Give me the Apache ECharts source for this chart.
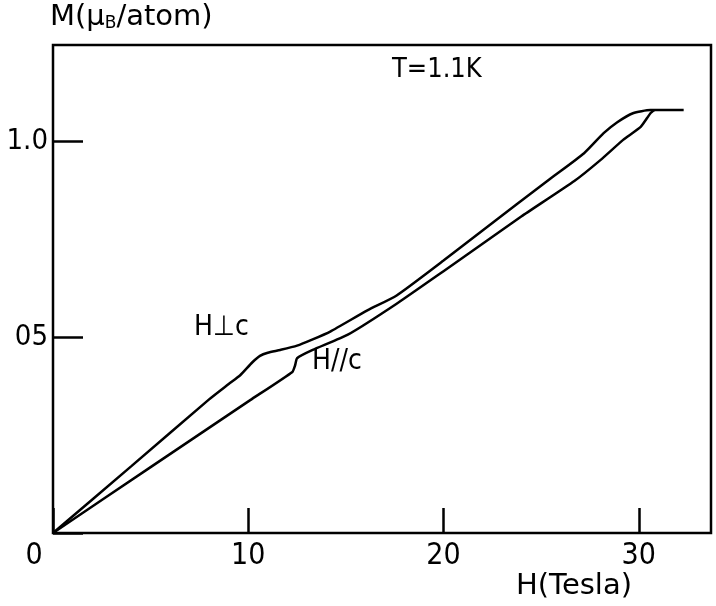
<!DOCTYPE html>
<html><head><meta charset="utf-8">
<script src="https://cdn.jsdelivr.net/npm/echarts@6/dist/echarts.min.js"></script>
<style>html,body{margin:0;padding:0;background:#fff}#c{width:716px;height:606px}</style>
</head><body><div id="c"></div>
<script>
// H ⊥ c curve (Tesla, μB/atom)
var perpH = [0, 4, 7.95, 9.0, 9.6, 10.2, 10.6, 11.0, 11.64, 12.5, 13.3, 14.2, 16.1, 17.6, 20, 22, 25.5, 27.2, 28.2, 28.9, 29.7, 30.6, 32.3];
var perpM = [0, 0.17, 0.339, 0.38, 0.403, 0.435, 0.452, 0.46, 0.467, 0.478, 0.494, 0.514, 0.568, 0.606, 0.695, 0.772, 0.905, 0.969, 1.020, 1.048, 1.071, 1.079, 1.079];
// H // c curve
var parH = [0, 5, 10.1, 12.26, 12.4, 12.5, 13.3, 15.1, 17.6, 20, 22, 24, 26.7, 28.05, 29.2, 30.1, 30.6, 30.8];
var parM = [0, 0.168, 0.339, 0.411, 0.428, 0.446, 0.467, 0.506, 0.585, 0.668, 0.738, 0.808, 0.898, 0.952, 1.003, 1.036, 1.071, 1.079];
// tick labels
var xTickValues = [0, 10, 20, 30];
var xTickLabels = ['0', '10', '20', '30'];
var yTickValues = [0.5, 1.0];
var yTickLabels = ['05', '1.0'];

function zip(a, b) { return a.map(function (v, i) { return [v, b[i]]; }); }
var FONT = "'DejaVu Sans Condensed','DejaVu Sans',sans-serif";
var WIDE = "'DejaVu Sans',sans-serif";

var chart = echarts.init(document.getElementById('c'));
chart.setOption({
  animation: false,
  grid: { left: 53, right: 5, top: 45, bottom: 73, show: true, borderColor: '#000', borderWidth: 2.5, backgroundColor: 'transparent' },
  xAxis: {
    type: 'value', min: 0, max: 33.7, interval: 10,
    axisLine: { show: false },
    splitLine: { show: false },
    axisTick: { show: true, inside: true, length: 25, lineStyle: { color: '#000', width: 2.5 } },
    axisLabel: {
      color: '#000', fontFamily: FONT, fontSize: 30, margin: 8, showMaxLabel: false,
      formatter: function (v) {
        var i = xTickValues.indexOf(Math.round(v * 1000) / 1000);
        if (i < 0) return '';
        return v === 0 ? '{z|' + xTickLabels[i] + '}' : xTickLabels[i];
      },
      rich: { z: { fontFamily: FONT, fontSize: 30, color: '#000', padding: [0, 38, 0, 0] } }
    }
  },
  yAxis: {
    type: 'value', min: 0, max: 1.245, interval: 0.5,
    axisLine: { show: false },
    splitLine: { show: false },
    axisTick: { show: true, inside: true, length: 30, lineStyle: { color: '#000', width: 2.5 } },
    axisLabel: {
      color: '#000', fontFamily: FONT, fontSize: 29, margin: 5, showMaxLabel: false,
      formatter: function (v) {
        var i = yTickValues.indexOf(Math.round(v * 1000) / 1000);
        return i < 0 ? '' : yTickLabels[i];
      }
    }
  },
  series: [
    { type: 'line', name: 'H⊥c', data: zip(perpH, perpM), showSymbol: false, smooth: 0.2,
      lineStyle: { color: '#000', width: 2.5 } },
    { type: 'line', name: 'H//c', data: zip(parH, parM), showSymbol: false, smooth: 0.15,
      lineStyle: { color: '#000', width: 2.5 } }
  ],
  graphic: [
    { type: 'text', left: 50, top: 3, style: { rich: {
        a: { fontFamily: WIDE, fontSize: 29, fill: '#000' },
        s: { fontFamily: WIDE, fontSize: 17, fill: '#000', padding: [12, 0, 0, 0] } },
      text: '{a|M(μ}{s|B}{a|/atom)}' } },
    { type: 'text', left: 392, top: 56, style: { text: 'T=1.1K', fontFamily: FONT, fontSize: 27, fill: '#000' } },
    { type: 'text', left: 194, top: 314, style: { text: 'H⊥c', fontFamily: FONT, fontSize: 28, fill: '#000' } },
    { type: 'text', left: 312, top: 348, style: { text: 'H//c', fontFamily: FONT, fontSize: 28, fill: '#000' } },
    { type: 'text', left: 516, top: 572, style: { text: 'H(Tesla)', fontFamily: WIDE, fontSize: 29, fill: '#000' } }
  ]
});
</script>
</body></html>
